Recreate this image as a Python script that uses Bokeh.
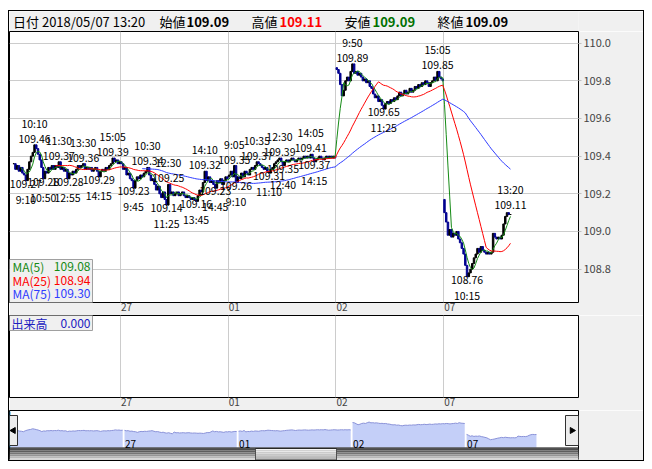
import pandas as pd
from bokeh.plotting import figure
from bokeh.models import Range1d, FixedTicker, PrintfTickFormatter, ColumnDataSource
from bokeh.layouts import column
from bokeh.core.properties import value
from bokeh.embed import file_html
from bokeh.resources import INLINE

# ---------------- data (5-minute bars, USD/JPY) ----------------
day_labels = ["26", "27", "01", "02", "07"]
day_open = [109.36, 109.37, 109.29, 109.87, 109.17]

close_0426 = [109.36, 109.33, 109.35, 109.32, 109.34, 109.31, 109.30, 109.27, 109.33, 109.37,
              109.40, 109.42, 109.46, 109.44, 109.41, 109.38, 109.34, 109.28, 109.32, 109.31,
              109.34, 109.33, 109.35, 109.33, 109.35, 109.34, 109.37, 109.33, 109.34, 109.32,
              109.33, 109.28, 109.31, 109.30, 109.32, 109.31, 109.33, 109.35, 109.34, 109.35,
              109.36, 109.33, 109.34, 109.33, 109.34, 109.32, 109.33, 109.34, 109.32, 109.29,
              109.32, 109.33, 109.32, 109.34, 109.33, 109.35, 109.36, 109.39, 109.37, 109.38,
              109.36, 109.37]
close_0427 = [109.36, 109.33, 109.34, 109.30, 109.31, 109.28, 109.27, 109.23, 109.27, 109.29,
              109.28, 109.30, 109.29, 109.31, 109.32, 109.34, 109.30, 109.27, 109.28, 109.25,
              109.22, 109.24, 109.20, 109.18, 109.21, 109.17, 109.14, 109.25, 109.20, 109.21,
              109.19, 109.20, 109.21, 109.19, 109.20, 109.21, 109.19, 109.18, 109.19, 109.18,
              109.17, 109.18, 109.17, 109.16, 109.19, 109.22, 109.21, 109.26, 109.32, 109.27,
              109.29, 109.26, 109.27, 109.25, 109.23, 109.27, 109.26, 109.28, 109.25, 109.27,
              109.29, 109.28]
close_0501 = [109.30, 109.32, 109.29, 109.35, 109.26, 109.29, 109.28, 109.31, 109.29, 109.32,
              109.31, 109.30, 109.33, 109.34, 109.33, 109.35, 109.37, 109.36, 109.35, 109.34,
              109.33, 109.34, 109.32, 109.31, 109.33, 109.34, 109.36, 109.37, 109.38, 109.39,
              109.37, 109.35, 109.37, 109.38, 109.37, 109.38, 109.39, 109.38, 109.37, 109.38,
              109.39, 109.38, 109.39, 109.40, 109.39, 109.40, 109.39, 109.41, 109.39, 109.37,
              109.38, 109.39, 109.40, 109.39, 109.38, 109.39, 109.40, 109.39, 109.40, 109.39,
              109.40, 109.39]
close_0502 = [109.86, 109.84, 109.78, 109.72, 109.75, 109.80, 109.82, 109.80, 109.85, 109.89,
              109.84, 109.85, 109.83, 109.84, 109.82, 109.80, 109.81, 109.79, 109.80, 109.77,
              109.76, 109.73, 109.71, 109.72, 109.69, 109.70, 109.67, 109.65, 109.68, 109.69,
              109.68, 109.70, 109.69, 109.71, 109.70, 109.72, 109.74, 109.72, 109.73, 109.75,
              109.73, 109.74, 109.76, 109.74, 109.75, 109.77, 109.76, 109.78, 109.77, 109.79,
              109.78, 109.80, 109.79, 109.77, 109.79, 109.80, 109.82, 109.80, 109.85, 109.82,
              109.81, 109.80]
close_0507 = [109.10, 109.05, 108.98, 109.01, 108.97, 108.99, 108.98, 109.00, 108.96, 108.94,
              108.91, 108.88, 108.82, 108.76, 108.78, 108.80, 108.83, 108.86, 108.88, 108.91,
              108.89, 108.92, 108.90, 108.89, 108.88, 108.89, 108.88, 108.89, 108.99, 108.97,
              108.96, 108.97, 108.96, 108.98, 109.04, 109.08, 109.10, 109.09, 109.09]
all_days = [close_0426, close_0427, close_0501, close_0502, close_0507]

ma_periods = [5, 25, 75]
ma_names = ["MA(5)", "MA(25)", "MA(75)"]
ma_values = ["109.08", "108.94", "109.30"]

# swing high / low annotations: day index, bar within day, time, price, kind
ann_day = [0, 0, 0, 0, 0, 0, 0, 0, 1, 1, 1, 1, 1, 1, 1, 2, 2, 2, 2, 2, 2, 2, 2, 3, 3, 3, 4, 4]
ann_slot = [7, 12, 17, 26, 31, 40, 49, 57, 7, 15, 26, 27, 43, 48, 54, 3, 4, 16, 23, 29, 31, 47, 49,
            9, 27, 58, 13, 38]
ann_time = ["9:10", "10:10", "10:50", "11:30", "12:55", "13:30", "14:15", "15:05",
            "9:45", "10:30", "11:25", "12:30", "13:45", "14:10", "14:45",
            "9:05", "9:10", "10:35", "11:10", "12:30", "12:40", "14:05", "14:15",
            "9:50", "11:25", "15:05", "10:15", "13:20"]
ann_price = [109.27, 109.46, 109.28, 109.37, 109.28, 109.36, 109.29, 109.39,
             109.23, 109.34, 109.14, 109.25, 109.16, 109.32, 109.23,
             109.35, 109.26, 109.37, 109.31, 109.39, 109.35, 109.41, 109.37,
             109.89, 109.65, 109.85, 108.76, 109.11]
ann_kind = ["L", "H", "L", "H", "L", "H", "L", "H", "L", "H", "L", "H", "L", "H", "L",
            "H", "L", "H", "L", "H", "L", "H", "L", "H", "L", "H", "L", "H"]

y_ticks = [108.8, 109.0, 109.2, 109.4, 109.6, 109.8, 110.0]

hdr_date = "2018/05/07 13:20"
hdr_open, hdr_high, hdr_low, hdr_close = 109.09, 109.11, 109.09, 109.09
volume_now = 0.000

# ---------------- layout constants ----------------
SLOTS = 62
W = 634
RB = 65               # right gray panel width
FW = W - RB           # frame width
PANEL = "#f0f0f0"
GRID = "#cccccc"
UP, DOWN = "#000000", "#000090"
MA_COLORS = ["#158a15", "#ff0000", "#2f3cff"]
FONT = "Noto Sans CJK JP"

PX = 1.737            # px per bar (main chart)
SLOT0_PAGE = 13.2     # page x of first bar
YPX = 188.3           # px per yen
x_start = (9 - SLOT0_PAGE) / PX
x_end = x_start + FW / PX
y_top = 110.062
y_bot = y_top - 271 / YPX

def mx(px):
    return x_start + (px - 9) / PX

def my(py):
    return y_top - (py - 31) / YPX

# ---------------- build series ----------------
day_start = [i * SLOTS for i in range(len(all_days))]
xs, opens, closes = [], [], []
for d, cl in enumerate(all_days):
    prev = day_open[d]
    for i, c in enumerate(cl):
        xs.append(day_start[d] + i)
        opens.append(prev)
        closes.append(c)
        prev = c
cs = pd.Series(closes)
candles = ColumnDataSource(dict(
    x=xs,
    top=[max(o, c) for o, c in zip(opens, closes)],
    bottom=[min(o, c) for o, c in zip(opens, closes)],
    color=[UP if c >= o else DOWN for o, c in zip(opens, closes)],
))

bounds = [s - 0.5 for s in day_start[1:]]
label_ticks = [s + 3 for s in day_start[1:]]
label_over = {t: lab for t, lab in zip(label_ticks, day_labels[1:])}

xr = Range1d(x_start, x_end)

def style_time_axis(fig):
    fig.xaxis.ticker = FixedTicker(ticks=label_ticks)
    fig.xaxis.major_label_overrides = label_over
    fig.xaxis.axis_line_color = None
    fig.xaxis.major_tick_line_color = None
    fig.xaxis.minor_tick_line_color = None
    fig.xaxis.major_tick_in = 0
    fig.xaxis.major_tick_out = 0
    fig.xaxis.major_label_standoff = 0
    fig.xaxis.major_label_text_font = FONT
    fig.xaxis.major_label_text_font_size = "10px"
    fig.xgrid.ticker = FixedTicker(ticks=bounds)
    fig.xgrid.grid_line_color = GRID

# ---------------- header ----------------
hdr = figure(width=W, height=20, x_range=Range1d(0, FW), y_range=Range1d(0, 20),
             toolbar_location=None, output_backend="svg", min_border=0, min_border_right=RB,
             x_axis_location=None, y_axis_location=None,
             background_fill_color=PANEL, border_fill_color=PANEL, outline_line_color=None)
hdr.grid.visible = False
hdr_items = [
    (3.5, "日付 " + hdr_date, "#000000", "normal"),
    (150, "始値", "#000000", "normal"),
    (177, f"{hdr_open:.2f}", "#000000", "bold"),
    (242, "高値", "#000000", "normal"),
    (270, f"{hdr_high:.2f}", "#ff0000", "bold"),
    (335, "安値", "#000000", "normal"),
    (363, f"{hdr_low:.2f}", "#007000", "bold"),
    (428, "終値", "#000000", "normal"),
    (456, f"{hdr_close:.2f}", "#000000", "bold"),
]
for hx, t, col, wt in hdr_items:
    hdr.text(x=[hx], y=[10], text=[t], text_color=col, text_font=value(FONT),
             text_font_size="13px", text_font_style=wt, text_baseline="middle", text_align="left")

# ---------------- main price chart ----------------
p = figure(width=W, height=284, x_range=xr, y_range=Range1d(y_bot, y_top),
           y_axis_location="right", toolbar_location=None, output_backend="svg",
           min_border_left=0, min_border_right=RB, min_border_top=0, min_border_bottom=13,
           border_fill_color=PANEL, background_fill_color="white", outline_line_color="black")
p.yaxis.ticker = FixedTicker(ticks=y_ticks)
p.ygrid.ticker = FixedTicker(ticks=y_ticks)
p.yaxis.formatter = PrintfTickFormatter(format="%.1f")
p.yaxis.axis_line_color = None
p.yaxis.major_tick_in = 0
p.yaxis.major_tick_out = 3
p.yaxis.major_tick_line_color = "#c0c0c0"
p.yaxis.minor_tick_line_color = None
p.yaxis.major_label_standoff = 2
p.yaxis.major_label_text_font = FONT
p.yaxis.major_label_text_font_size = "11px"
p.ygrid.grid_line_color = GRID
style_time_axis(p)

p.vbar(x="x", width=0.85, top="top", bottom="bottom", fill_color="color", line_color="color",
       line_width=1, source=candles)
for n, col in zip(ma_periods, MA_COLORS):
    ma = cs.rolling(n).mean()
    mask = ma.notna()
    p.line([x for x, m in zip(xs, mask) if m], ma[mask].tolist(), line_color=col, line_width=1)

gx = [day_start[d] + s for d, s in zip(ann_day, ann_slot)]
for kind, p_off, t_off, base in (("H", -2, -14, "bottom"), ("L", -1, 11, "top")):
    idx = [i for i, k in enumerate(ann_kind) if k == kind]
    src = ColumnDataSource(dict(x=[gx[i] for i in idx], y=[ann_price[i] for i in idx],
                                pt=[f"{ann_price[i]:.2f}" for i in idx],
                                tt=[ann_time[i] for i in idx]))
    p.text(x="x", y="y", text="pt", y_offset=p_off, source=src, text_align="center",
           text_baseline=base, text_font=value(FONT), text_font_size="10.5px", text_color="black")
    p.text(x="x", y="y", text="tt", y_offset=t_off, source=src, text_align="center",
           text_baseline=base, text_font=value(FONT), text_font_size="10.5px", text_color="black")

# MA legend box
p.quad(left=[mx(9)], right=[mx(92)], bottom=[y_bot], top=[my(259)],
       fill_color=PANEL, line_color="#a0a0a0", line_width=1)
row_py = [266, 280, 293]
p.text(x=[mx(12)] * 3, y=[my(py) for py in row_py], text=ma_names, text_color=MA_COLORS,
       text_font=value(FONT), text_font_size="12px", text_baseline="middle", text_align="left")
p.text(x=[mx(90)] * 3, y=[my(py) for py in row_py], text=ma_values, text_color=MA_COLORS,
       text_font=value(FONT), text_font_size="12px", text_baseline="middle", text_align="right")

# ---------------- volume panel ----------------
pv = figure(width=W, height=95, x_range=xr, y_range=Range1d(0, 1), y_axis_location=None,
            toolbar_location=None, output_backend="svg",
            min_border_left=0, min_border_right=RB, min_border_top=0, min_border_bottom=13,
            border_fill_color=PANEL, background_fill_color="white", outline_line_color="black")
pv.ygrid.visible = False
style_time_axis(pv)

def vy(py):
    return 1 - (py - 315) / 82.0

pv.quad(left=[mx(9)], right=[mx(92)], bottom=[vy(330)], top=[1],
        fill_color=PANEL, line_color="#a0a0a0", line_width=1)
pv.text(x=[mx(11)], y=[vy(322.5)], text=["出来高"], text_color="#2020c0", text_font=value(FONT),
        text_font_size="12px", text_baseline="middle", text_align="left")
pv.text(x=[mx(90)], y=[vy(322.5)], text=[f"{volume_now:.3f}"], text_color="#2020c0",
        text_font=value(FONT), text_font_size="12px", text_baseline="middle", text_align="right")

# ---------------- navigator ----------------
NPX = 1.839
NSC = 15.6
nav_x0 = -1 / NPX
nav_x1 = nav_x0 + FW / NPX
nav_top = 109.35 + 20 / NSC
nav_bot = nav_top - 50 / NSC

def nx(px):
    return nav_x0 + (px - 9) / NPX

def ny(py):
    return nav_top - (py - 410) / NSC

nav = figure(width=W, height=50, x_range=Range1d(nav_x0, nav_x1), y_range=Range1d(nav_bot, nav_top),
             toolbar_location=None, output_backend="svg", min_border=0, min_border_right=RB,
             x_axis_location=None, y_axis_location=None,
             border_fill_color=PANEL, background_fill_color="white", outline_line_color="black")
nav.grid.visible = False
base = ny(447)
for d, cl in enumerate(all_days):
    dx = [day_start[d] + i for i in range(len(cl))]
    nav.varea(x=dx, y1=[base] * len(cl), y2=cl, fill_color="#c4cff8")
    nav.line(dx, cl, line_color="#8a92d8", line_width=1)
    if d > 0:
        nav.text(x=[day_start[d] + 0.3], y=[ny(447)], text=[day_labels[d]], text_font=value(FONT),
                 text_font_size="10px", text_baseline="bottom", text_align="left", text_color="black")

nav.segment(x0=[nx(9.5)], y0=[ny(411)], x1=[nx(9.5)], y1=[ny(447)], line_color="#20a0e0", line_width=1)
# scrollbar trough (gradient bands) and thumb
trough = ["#4a4a4a", "#5e5e5e", "#767676", "#959595", "#b8b8b8", "#d6d6d6"]
thumb = ["#f4f4f4", "#e8e8e8", "#dadada", "#cacaca", "#bababa", "#aaaaaa"]
band_y = [448, 450, 452, 454, 456, 458, 460]
nav.quad(left=[nx(9)] * 6, right=[nx(580)] * 6, top=[ny(y) for y in band_y[:-1]],
         bottom=[ny(y) for y in band_y[1:]], fill_color=trough, line_color=None)
nav.quad(left=[nx(255)] * 6, right=[nx(336)] * 6, top=[ny(y) for y in band_y[:-1]],
         bottom=[ny(y) for y in band_y[1:]], fill_color=thumb, line_color=None)
nav.quad(left=[nx(255)], right=[nx(336)], top=[ny(448)], bottom=[ny(459.5)],
         fill_color=None, line_color="#505050", line_width=1)
nav.segment(x0=[nx(9)], y0=[ny(447.5)], x1=[nx(580)], y1=[ny(447.5)], line_color="black", line_width=1)
# scroll buttons
nav.quad(left=[nx(9), nx(565)], right=[nx(17), nx(578)], top=[ny(415)] * 2, bottom=[ny(445)] * 2,
         fill_color="#ececec", line_color="#303030", line_width=1)
nav.scatter(x=[nx(13), nx(571.5)], y=[ny(430)] * 2, marker="triangle", angle=[1.5708, -1.5708],
            size=6, fill_color="black", line_color="black")

layout = column(hdr, p, pv, nav, spacing=0, margin=(10, 0, 0, 8),
                styles={"border": "1px solid black"})
open("out.html", "w").write(file_html(layout, INLINE))
